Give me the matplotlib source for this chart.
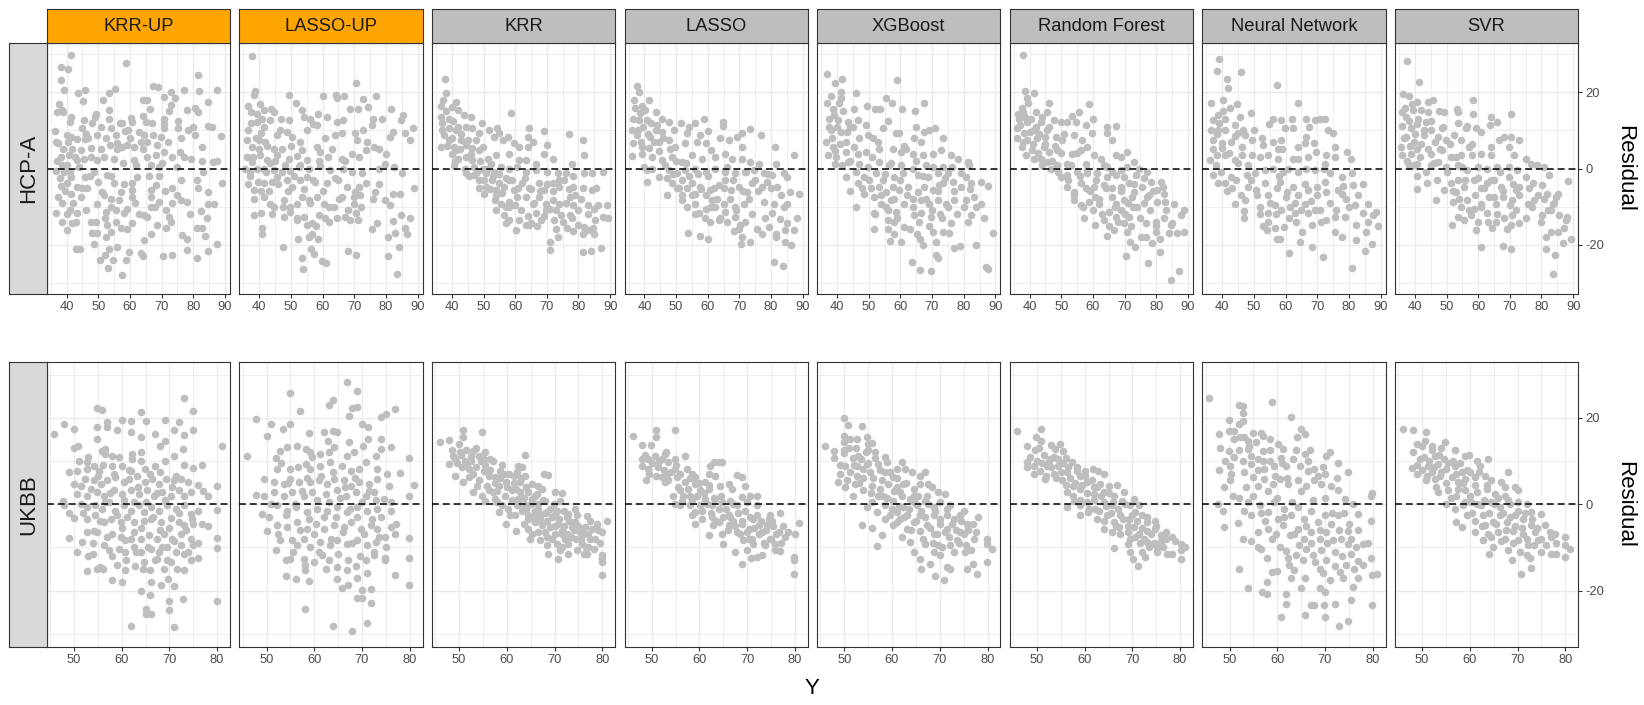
import matplotlib
matplotlib.use("Agg")
import matplotlib.pyplot as plt

plt.rcParams['font.family'] = ['Liberation Sans', 'DejaVu Sans']
plt.rcParams['axes.unicode_minus'] = False

# ---------------- categories / labels ----------------
models = ["KRR-UP", "LASSO-UP", "KRR", "LASSO", "XGBoost", "Random Forest", "Neural Network", "SVR"]
strip_colors = ["#FFA500", "#FFA500", "#BEBEBE", "#BEBEBE", "#BEBEBE", "#BEBEBE", "#BEBEBE", "#BEBEBE"]
datasets = ["HCP-A", "UKBB"]
x_ticks_hcp = [40, 50, 60, 70, 80, 90]
x_minor_hcp = [35, 45, 55, 65, 75, 85]
x_ticks_ukbb = [50, 60, 70, 80]
x_minor_ukbb = [45, 55, 65, 75]
y_ticks = [-20, 0, 20]
y_minor = [-30, -10, 10, 30]

# ---------------- data: (Y, Residual) ----------------
hcp_krr_up = [(41.5,29.7),(58.6,27.6),(38.1,26.7),(40.4,26.0),(81.5,24.6),(38.3,23.1),(39.2,20.5),(43.7,19.9),(45.7,20.6),(45.3,17.8),(53.4,19.7),(55.2,20.9),(51.6,18.1),(67.2,21.6),(68.9,21.3),(73.1,20.1),(70.6,18.8),(74.1,18.6),(77.2,20.7),(81.7,20.4),(87.6,20.7),(84.6,17.5),(37.6,16.8),(38.6,15.3),(37.1,14.9),(38.7,14.7),(41.3,13.6),(41.1,12.2),(45.4,12.8),(49.2,14.4),(48.9,13.4),(53.4,15.3),(53.4,12.9),(57.5,12.0),(60.4,13.2),(60.5,12.2),(64.2,18.1),(65.4,17.9),(66.3,15.5),(64.2,13.7),(65.2,12.2),(72.9,16.6),(72.2,15.0),(70.8,13.0),(70.8,11.6),(75.2,12.5),(78.1,15.3),(80.4,16.0),(81.5,14.8),(84.8,11.1),(86.0,10.8),(36.3,9.9),(44.7,10.7),(40.2,8.7),(41.5,8.3),(43.4,7.7),(36.7,7.0),(45.7,7.7),(46.9,7.9),(49.7,8.8),(52.3,7.9),(53.9,10.5),(55.5,8.7),(58.4,9.8),(59.5,10.1),(62.8,9.6),(64.4,8.7),(67.2,8.7),(69.9,8.3),(70.8,10.5),(75.2,10.5),(76.1,8.0),(78.2,10.1),(80.4,8.7),(82.8,5.7),(88.8,8.4),(37.4,6.6),(41.8,5.2),(44.4,4.8),(47.6,5.5),(51.0,5.2),(53.6,6.1),(56.0,6.6),(57.6,5.7),(59.2,6.1),(61.3,5.7),(63.4,7.0),(65.5,7.0),(68.6,6.1),(68.1,3.5),(70.8,4.4),(73.4,3.1),(75.8,4.4),(79.2,2.6),(82.6,1.9),(86.1,1.7),(87.6,2.0),(38.1,3.1),(40.7,3.5),(38.6,0.9),(40.2,0.9),(43.4,2.2),(45.5,2.6),(47.6,2.9),(49.7,2.2),(51.8,3.1),(55.0,2.6),(57.9,1.5),(61.3,2.2),(65.5,3.1),(66.5,0.9),(69.2,0.4),(74.9,0.4),(36.5,-0.6),(39.2,-0.9),(41.3,-2.2),(45.8,-2.2),(48.6,-0.9),(52.6,-1.7),(62.3,-2.2),(69.2,-2.0),(76.1,-3.1),(81.3,-3.1),(89.0,-3.8),(38.1,-4.6),(40.2,-3.9),(43.4,-4.8),(46.5,-5.2),(51.3,-6.1),(55.0,-3.9),(57.1,-6.1),(60.7,-3.9),(60.5,-5.7),(66.6,-5.7),(68.2,-4.2),(73.2,-5.2),(81.6,-5.2),(84.6,-6.1),(37.3,-7.4),(41.3,-6.7),(44.4,-7.4),(51.8,-7.0),(53.9,-7.9),(60.7,-7.4),(66.5,-7.4),(69.2,-8.7),(73.2,-9.0),(76.2,-8.3),(78.1,-8.7),(84.8,-9.4),(86.5,-9.4),(36.7,-11.6),(41.0,-10.9),(43.4,-11.8),(49.5,-9.4),(52.4,-11.4),(53.9,-10.1),(56.5,-8.3),(58.1,-11.8),(59.2,-10.5),(64.4,-12.2),(66.5,-10.1),(71.3,-10.9),(72.3,-12.7),(82.3,-11.1),(84.4,-12.9),(38.6,-14.0),(41.7,-14.3),(40.0,-16.2),(47.6,-14.0),(49.2,-14.0),(48.1,-16.9),(49.7,-16.9),(52.9,-14.9),(53.9,-16.6),(55.5,-14.0),(57.1,-15.7),(60.8,-14.3),(65.5,-12.7),(68.6,-14.9),(71.3,-15.7),(76.5,-17.5),(78.1,-18.6),(81.1,-15.7),(82.8,-15.7),(83.6,-17.8),(66.7,-17.1),(64.4,-18.8),(48.6,-19.7),(42.8,-21.0),(44.2,-21.0),(52.3,-17.9),(53.4,-21.0),(55.8,-20.6),(59.7,-21.9),(63.4,-22.1),(64.2,-23.0),(70.5,-23.0),(73.4,-22.7),(78.1,-21.4),(81.3,-23.4),(84.6,-21.6),(87.4,-19.7),(50.6,-24.1),(52.2,-22.7),(53.2,-26.0),(54.8,-23.9),(58.9,-24.1),(57.4,-28.0),
    (37,2),(38,-2.5),(38.5,-9),(39,5),(39.5,-6),(40,-12),(40.5,7),(41,-1),(42,-9),(42.5,3),(43,-14),(44,0.5),(45,-5),(46,9),(46,-11),(47.5,-2),(48,12),(50,-3.5),(51,11),(52,-13),(54,-2),(55.5,-11),(56,5),(57,12),(58,-4),(59,-16),(60,8),(61.5,-9),(62,1),(63,-12),(64,5),(66,-2),(67,12),(68,-10),(70,1.5),(71,-6),(72,7),(73,-14),(75,-7),(77,3),(79,-12),(80,11),(83,-1)]

hcp_lasso_up = [(37.7,29.5),(38.8,20.4),(38.2,19.2),(36.5,16.4),(40.3,16.9),(37.4,14.9),(39.3,14.3),(41.4,15.3),(43.8,15.7),(44.8,14.8),(49.3,19.4),(51.5,17.2),(53.5,15.3),(54.0,13.6),(56.1,13.1),(60.0,19.0),(64.1,19.4),(64.7,18.5),(66.9,19.1),(70.5,22.3),(72.9,18.2),(76.9,19.1),(68.7,15.7),(71.3,15.7),(74.5,16.2),(81.6,15.7),(85.3,14.0),(84.9,12.7),(88.7,10.7),(86.1,9.2),(87.5,7.4),(82.4,9.6),(81.3,8.3),(78.7,13.1),(75.8,13.1),(75.5,11.4),(72.9,10.1),(70.8,7.4),(70.3,9.2),(66.6,12.7),(64.5,12.2),(61.4,13.6),(58.7,14.4),(58.2,11.4),(56.9,11.8),(60.9,7.9),(64.0,8.7),(66.1,9.2),(58.2,5.7),(59.3,4.4),(52.9,7.0),(53.5,4.8),(50.3,8.3),(48.7,9.6),(45.6,8.7),(47.2,5.2),(44.6,5.2),(36.1,7.6),(37.7,5.7),(39.8,7.4),(41.4,10.9),(43.5,12.7),(46.9,12.9),(49.3,12.7),(39.3,12.2),(40.5,9.2),(41.9,7.0),(45.6,3.5),(49.3,2.6),(51.9,3.2),(55.1,2.2),(61.6,3.1),(66.0,2.6),(69.3,3.9),(71.4,3.1),(73.8,4.8),(76.1,5.7),(77.7,5.2),(80.1,3.9),(79.8,1.3),(82.6,0.3),(36.1,3.1),(37.7,1.7),(40.3,3.5),(42.4,2.2),(35.6,0.0),(37.2,-0.9),(39.3,0.0),(41.4,0.0),(44.6,-0.4),(47.2,-0.9),(49.8,-0.6),(52.4,0.4),(55.6,0.0),(59.3,0.6),(62.4,-0.4),(66.6,0.0),(69.3,-0.9),(72.4,-1.3),(77.7,0.0),(85.1,-1.1),(36.3,-4.1),(38.4,-5.7),(41.4,-3.9),(44.0,-3.5),(45.6,-2.2),(48.7,-3.1),(50.3,-4.8),(52.9,-3.1),(55.1,-2.2),(57.7,-3.5),(61.4,-3.9),(64.0,-2.6),(67.7,-4.8),(70.3,-6.1),(71.4,-4.8),(73.8,-3.8),(77.7,-4.1),(76.6,-6.1),(82.4,-6.6),(84.5,-6.7),(88.8,-5.1),(41.4,-7.4),(43.5,-9.4),(44.6,-10.2),(47.7,-8.3),(49.8,-10.1),(51.9,-9.2),(53.5,-7.4),(55.6,-8.3),(58.2,-7.4),(60.3,-9.2),(63.5,-10.1),(65.1,-7.9),(66.2,-7.4),(69.8,-7.4),(69.8,-9.2),(71.9,-7.0),(79.8,-8.3),(81.4,-9.6),(38.4,-12.2),(40.5,-11.8),(40.8,-15.7),(40.8,-17.1),(47.7,-12.7),(49.8,-11.4),(51.9,-13.6),(54.0,-12.7),(55.1,-14.9),(56.7,-14.4),(58.8,-12.2),(60.9,-13.1),(61.9,-14.0),(64.5,-13.1),(67.2,-12.7),(68.7,-13.6),(70.6,-11.6),(71.1,-13.6),(75.6,-16.0),(77.2,-14.4),(82.1,-13.7),(83.0,-16.9),(84.7,-12.2),(87.7,-13.1),(86.1,-15.7),(86.8,-17.1),(80.8,-17.9),(47.4,-20.7),(52.1,-18.6),(55.6,-17.9),(56.6,-17.1),(58.5,-18.6),(56.5,-21.0),(57.4,-22.5),(53.6,-23.6),(53.7,-26.3),(59.8,-24.2),(61.2,-24.9),(68.0,-21.6),(70.5,-22.6),(80.8,-23.0),(84.1,-20.6),(83.5,-27.6),
    (36.5,10),(37,-2),(37.5,12),(38,3),(38.5,-8),(39,8),(39.5,-3.5),(40,5),(40.5,-6),(41,13),(42,-1),(42.5,6),(43,-6),(43.5,1.5),(44,-12),(45,2),(46,-4),(46.5,10),(47.5,-10),(48,1),(49,-6),(50,6),(51,-2),(52,-13),(53,1),(54,-5.5),(55,10),(56,-9),(57,-3),(58,-15),(59,2),(60,-6),(62,-10),(63,5),(65,-3),(67,2),(68,-11),(72,-10),(74,7),(76,-8)]

hcp_krr = [(37.8,23.4),(38.3,19.9),(37.1,17.9),(36.5,16.4),(41.3,17.5),(40.2,16.2),(41.8,15.3),(43.9,14.0),(46.0,13.6),(36.5,13.4),(36.8,10.1),(39.2,10.5),(37.6,8.7),(41.3,10.1),(44.4,10.9),(46.5,10.5),(48.6,9.2),(49.5,12.0),(36.5,5.7),(39.2,7.4),(40.7,5.7),(42.8,7.4),(44.4,6.1),(47.6,7.4),(48.6,4.8),(40.2,3.9),(41.3,4.8),(46.0,3.9),(49.7,5.7),(51.6,10.1),(54.2,10.5),(53.4,8.3),(55.0,9.2),(57.6,8.3),(56.2,7.4),(58.7,14.6),(59.7,6.6),(61.3,5.7),(64.4,10.5),(64.2,8.3),(63.9,5.7),(65.5,7.0),(69.2,9.9),(70.2,6.1),(69.2,3.9),(77.1,9.0),(81.5,7.6),(81.8,3.5),(78.1,1.1),(58.1,3.8),(61.3,2.2),(63.4,2.2),(66.5,1.3),(71.8,2.4),(41.8,2.6),(40.7,0.9),(44.4,3.1),(46.5,2.2),(51.3,2.6),(53.9,3.5),(52.3,1.3),(44.4,-1.1),(47.1,-1.7),(49.7,0.0),(50.7,-1.3),(53.4,-0.9),(55.5,0.4),(58.1,0.0),(60.7,0.4),(63.4,-0.9),(66.5,-0.4),(70.2,-0.9),(73.4,-1.3),(76.0,-1.3),(78.3,-2.0),(81.7,-1.3),(84.4,-1.1),(87.6,-0.9),(48.6,-3.1),(50.7,-4.8),(48.6,-5.2),(50.2,-6.6),(52.8,-3.1),(55.0,-3.9),(53.9,-5.7),(56.5,-4.8),(58.1,-3.1),(59.7,-5.7),(62.3,-3.9),(64.4,-5.2),(67.6,-3.9),(69.2,-5.7),(71.8,-3.9),(74.0,-4.8),(75.5,-3.1),(78.2,-4.8),(81.3,-5.2),(84.4,-5.7),(85.5,-5.2),(53.6,-8.3),(55.5,-9.2),(58.1,-8.7),(60.7,-7.4),(57.1,-10.1),(63.4,-7.4),(65.5,-9.2),(67.6,-7.4),(69.7,-9.2),(71.8,-8.3),(74.0,-9.2),(77.2,-7.4),(78.2,-9.6),(80.8,-7.9),(82.9,-9.6),(86.1,-9.6),(89.1,-9.6),(53.9,-10.9),(56.5,-12.2),(58.1,-13.6),(57.1,-14.4),(61.3,-13.6),(60.2,-16.2),(63.4,-14.9),(65.0,-14.4),(66.5,-11.8),(68.1,-13.6),(69.7,-10.9),(72.3,-13.6),(74.4,-12.2),(77.2,-12.2),(79.8,-14.9),(81.9,-15.3),(84.5,-15.7),(85.3,-13.6),(87.7,-12.7),(89.2,-12.9),(72.8,-16.0),(73.4,-18.1),(76.5,-15.7),(78.2,-16.4),(81.5,-17.1),(82.9,-16.2),(85.0,-17.1),(71.0,-19.4),(71.0,-21.3),(81.3,-21.9),(83.8,-21.6),(87.1,-20.8),(64.4,-14.9),
    (37,12),(38,15),(38.5,6),(39,13),(40,8),(40.5,12.5),(41,2),(42,11),(42.5,5),(43,9),(44,0),(45,7.5),(45.5,-2),(46.5,5.5),(47,0.5),(48,-1),(49,2),(50,-3),(51,0),(52,-5.5),(53,-2),(54,-7),(55,-1.5),(56,-6.5),(57,-2.5),(58,-10),(59,-3),(60,-9.5),(61,-5),(62,-11),(63,-2.5),(64,-12.5),(65,-5.5),(66,-9),(67,-15),(68,-6),(69,-12.5),(70,-4),(71,-10.5),(72,-6),(73,-11),(74,-3),(75,-14),(76,-9),(77,-5.5),(78,-13),(79,-7),(80,-11),(83,-12),(85,-10.5)]

hcp_lasso = [(37.7,21.7),(38.4,20.1),(36.6,18.1),(41.4,17.9),(39.3,16.4),(40.3,15.3),(43.5,14.9),(36.3,13.1),(38.2,12.7),(40.8,12.7),(45.6,13.1),(47.7,12.2),(51.7,12.0),(56.1,12.0),(58.7,12.9),(54.0,10.8),(64.8,12.2),(64.7,11.1),(60.1,9.8),(57.4,8.7),(53.3,9.2),(49.3,10.1),(45.6,9.6),(43.5,10.1),(36.1,10.1),(37.7,8.7),(41.9,8.3),(36.3,6.6),(39.3,5.7),(44.5,7.0),(47.7,7.4),(49.8,5.7),(52.9,6.6),(56.6,7.0),(59.3,6.6),(60.9,4.8),(64.0,7.9),(66.6,7.4),(69.3,8.3),(70.8,9.2),(73.2,10.3),(70.8,5.7),(76.8,8.9),(81.2,5.7),(87.3,3.5),(36.1,3.2),(39.3,3.9),(42.4,3.1),(45.6,2.2),(48.7,3.1),(51.9,1.7),(55.1,3.5),(58.2,2.6),(62.4,3.1),(65.6,3.9),(67.7,2.6),(70.8,2.6),(73.5,1.7),(76.1,1.3),(81.6,1.1),(40.8,-0.4),(44.5,-2.2),(40.8,-3.5),(47.7,-0.4),(50.3,-1.3),(52.9,-0.4),(56.1,0.0),(59.3,-0.9),(62.4,0.0),(65.6,-0.9),(68.7,-1.3),(71.9,-0.9),(74.5,-0.4),(77.7,-1.3),(80.3,-1.7),(84.0,-1.3),(85.1,-2.2),(47.2,-7.0),(48.8,-3.9),(50.3,-5.2),(51.9,-3.1),(53.5,-5.2),(55.1,-3.9),(56.1,-6.6),(57.7,-4.8),(59.3,-7.0),(60.8,-5.7),(63.5,-4.4),(65.6,-3.1),(67.2,-5.7),(69.8,-4.8),(72.4,-6.1),(74.0,-3.9),(77.2,-4.8),(78.7,-3.5),(81.9,-4.8),(86.1,-6.1),(88.7,-6.6),(51.9,-8.3),(53.5,-10.1),(56.1,-9.2),(57.2,-11.8),(59.3,-10.5),(61.4,-8.3),(62.4,-10.1),(65.1,-9.2),(65.6,-11.4),(68.7,-10.1),(71.4,-9.2),(77.7,-8.7),(80.8,-9.2),(85.1,-9.4),(60.8,-14.0),(63.5,-13.6),(66.1,-14.0),(68.7,-12.7),(71.9,-14.0),(70.3,-14.9),(80.2,-11.8),(82.9,-13.3),(85.1,-14.4),(88.2,-13.1),(87.2,-16.2),(84.5,-16.2),(68.2,-16.4),(75.6,-16.0),(77.1,-17.1),(79.2,-15.3),(81.4,-17.1),(70.8,-17.9),(70.6,-19.9),(73.3,-19.4),(53.7,-16.9),(57.4,-17.8),(60.0,-18.6),(81.4,-17.9),(84.5,-19.2),(86.4,-20.1),(81.0,-24.5),(83.7,-25.5),
    (37,16),(38,10),(38.5,14.5),(39,7),(39.5,11),(40,0.5),(41,9),(41.5,5.5),(42,12),(42.5,0),(43,7),(44,11.5),(44.5,4.5),(46,8),(46.5,1),(47,-2.5),(48,5),(49,-1.5),(50,2),(51,-5),(52,-7),(53,1.5),(54,-2),(55,-7),(56,-12),(57,-1.5),(58,-5.5),(59,-13),(60,-2),(61,-10),(62,-5),(63,-8),(64,-13),(65,-5),(66,0.5),(67,-8),(68,-3),(69,-11),(70,-16),(71,-6),(72,-1),(73,-8),(74,-12),(75,-3),(76,-6),(78,-13),(79,-1.5),(80,-5),(83,-7),(84,-10)]

hcp_xgb = [(36.8,24.9),(39.4,22.5),(41.7,23.6),(41.1,20.1),(41.3,18.4),(46.1,19.9),(58.9,23.2),(36.7,17.1),(38.6,15.5),(40.7,17.1),(45.5,15.7),(49.4,16.4),(52.0,15.6),(53.6,15.7),(55.5,18.4),(57.4,17.1),(60.5,15.5),(64.5,15.0),(67.4,17.2),(37.6,13.1),(40.2,12.7),(43.4,12.2),(46.5,12.7),(44.2,10.9),(38.1,10.1),(41.3,9.6),(49.7,8.7),(51.3,8.1),(54.4,10.5),(56.2,12.5),(58.7,9.2),(59.7,9.2),(64.9,10.9),(64.2,8.1),(67.6,9.6),(69.2,10.2),(70.8,10.5),(73.4,8.0),(66.5,7.0),(36.5,7.0),(38.6,5.7),(42.8,7.0),(45.5,5.7),(37.1,3.5),(39.7,3.1),(42.9,4.4),(46.5,3.9),(49.2,4.4),(53.4,5.2),(57.6,5.2),(60.2,4.4),(61.8,5.2),(63.9,3.8),(67.1,3.5),(70.2,3.9),(72.8,4.8),(76.0,3.5),(78.3,2.6),(39.2,1.3),(43.4,1.7),(46.9,1.3),(49.7,0.4),(53.4,1.7),(56.5,0.9),(60.2,0.9),(63.9,0.0),(68.1,0.9),(70.2,0.4),(73.6,0.4),(76.2,0.4),(81.3,1.7),(81.8,0.9),(42.8,-2.2),(46.5,-3.9),(48.6,-2.2),(52.3,-1.3),(54.4,-3.1),(58.1,-2.2),(60.7,-1.3),(65.5,-1.7),(68.6,-2.2),(71.8,-1.3),(75.0,-1.3),(79.2,-1.3),(80.8,-2.2),(44.2,-5.9),(48.6,-6.6),(50.7,-5.2),(53.4,-4.8),(55.5,-6.1),(57.6,-4.8),(59.6,-5.7),(62.3,-4.8),(65.5,-6.1),(67.6,-4.8),(70.2,-5.7),(72.3,-4.4),(73.4,-3.9),(76.5,-3.5),(79.2,-4.8),(82.3,-3.9),(85.5,-3.5),(87.6,-4.6),(46.0,-10.1),(51.8,-7.4),(53.9,-9.2),(51.8,-11.8),(55.5,-10.1),(57.1,-8.3),(58.6,-11.4),(61.3,-9.2),(63.9,-7.9),(66.5,-8.3),(69.2,-9.2),(71.8,-8.3),(74.5,-9.2),(77.1,-8.3),(80.8,-8.3),(83.4,-7.4),(85.5,-9.2),(56.0,-13.6),(58.1,-14.0),(61.3,-15.3),(64.4,-12.2),(66.5,-11.8),(69.7,-12.7),(72.5,-12.0),(76.0,-14.4),(81.3,-14.0),(82.3,-12.2),(86.5,-13.1),(51.8,-16.0),(56.0,-16.0),(58.1,-17.1),(56.8,-19.0),(60.2,-19.2),(65.3,-17.1),(70.2,-16.6),(73.4,-16.6),(75.5,-16.9),(66.2,-18.4),(67.3,-20.1),(71.4,-19.2),(71.2,-22.7),(71.9,-23.4),(76.8,-20.9),(78.7,-20.4),(83.9,-20.1),(89.2,-16.9),(63.6,-24.5),(66.3,-26.7),(69.7,-26.9),(87.2,-25.8),(87.8,-26.3),
    (37.5,11),(38,19),(38.5,8),(39,14),(39.5,4.5),(40,11),(41,6.5),(41.5,1),(42,15),(43,9.5),(44,2),(45,11),(46,-1),(47,8),(48,-5),(49,11.5),(50,-3),(51,3),(52,-12),(53,7),(54,-7),(55,-1.5),(56,-11),(57,1.5),(58,-8),(59,-13),(60,-3),(61,6),(62,-7),(63,-16),(64,-10),(65,2),(66,-14),(67,-2),(68,-8),(69,-15),(70,-11),(72,-6),(73,-13),(74,-2.5),(75,-10),(77,-6),(78,-12),(80,-10),(82,-5.5),(84,-10)]

hcp_rf = [(37.9,29.7),(38.4,20.4),(41.4,19.9),(39.3,18.4),(39.5,17.1),(46.1,17.2),(58.8,16.8),(36.3,14.4),(38.0,14.9),(41.9,14.9),(45.6,14.9),(36.6,13.1),(39.3,12.2),(43.5,12.2),(47.7,12.7),(49.8,12.2),(51.9,12.2),(53.5,13.7),(55.6,14.9),(54.6,12.2),(60.1,12.9),(57.7,11.4),(64.5,10.9),(67.2,11.2),(64.5,9.2),(66.1,7.4),(36.1,10.5),(38.2,9.2),(41.4,10.1),(45.6,10.2),(36.1,7.9),(39.3,7.4),(42.4,7.9),(45.0,8.3),(48.2,8.3),(50.3,7.4),(53.9,8.7),(56.6,7.4),(59.7,9.2),(37.7,5.7),(40.8,4.8),(44.5,5.7),(46.1,4.4),(48.7,4.8),(53.5,3.9),(56.1,4.8),(58.2,5.7),(60.3,3.5),(62.4,2.6),(67.2,3.5),(70.8,4.4),(68.7,3.1),(72.9,1.7),(41.4,2.6),(43.5,2.6),(45.6,1.7),(48.7,0.9),(51.9,1.3),(57.7,1.3),(63.5,0.9),(64.5,0.4),(68.7,-0.4),(70.8,0.4),(74.5,0.0),(77.2,-0.9),(46.6,0.0),(49.8,-2.2),(51.9,-1.7),(55.1,-0.9),(58.2,-1.3),(61.4,-1.3),(64.5,-2.2),(67.2,-1.7),(69.8,-2.2),(73.5,-1.7),(76.1,-2.6),(78.2,-3.5),(81.4,-3.5),(51.9,-4.8),(54.0,-6.1),(56.1,-3.9),(57.7,-5.2),(60.3,-4.8),(63.5,-4.4),(66.1,-5.2),(68.7,-4.8),(71.4,-3.9),(72.9,-6.1),(75.6,-4.8),(77.7,-7.0),(80.3,-5.7),(82.2,-4.8),(82.4,-6.6),(54.0,-8.3),(56.1,-9.6),(58.7,-8.7),(60.8,-7.4),(61.9,-9.2),(66.1,-7.4),(67.2,-9.2),(69.8,-8.3),(72.4,-7.4),(77.2,-7.4),(80.3,-8.7),(82.9,-8.7),(85.6,-9.2),(88.7,-10.8),(57.2,-13.1),(60.8,-14.9),(63.5,-13.6),(65.1,-11.4),(67.2,-12.7),(68.7,-10.9),(69.8,-14.4),(71.4,-12.7),(72.7,-10.1),(66.6,-16.2),(64.5,-17.8),(70.8,-16.6),(79.8,-14.0),(82.4,-13.1),(85.1,-14.4),(87.7,-12.2),(84.5,-14.9),(76.8,-14.3),(75.1,-17.9),(76.6,-18.1),(79.8,-16.6),(86.4,-16.8),(88.9,-16.6),(71.7,-19.2),(73.3,-20.7),(78.7,-19.5),(81.1,-18.6),(70.4,-22.9),(77.3,-24.8),(81.2,-22.0),(87.2,-26.9),(84.7,-29.3),
    (37,11.5),(37.5,16),(38,7),(38.5,13.5),(39,3.5),(40,9.5),(40.5,13),(41,6.5),(42,11),(42.5,4),(43,9),(44,1),(44,13.5),(45,6.5),(46,11),(47,2),(48,6),(49,-1),(50,4),(51,9),(52,-3),(53,1),(54,-7),(55,4),(56,-2),(57,-10),(58,-0.5),(59,-6),(60,-11),(61,-3),(62,-8),(63,-12),(64,-5),(65,-15),(66,-1),(67,-10),(68,-14),(69,-6),(70,-12),(71,-9),(72,-15),(73,-4),(74,-10),(75,-13),(76,-9),(78,-11),(79,-6),(80,-15),(83,-11),(84,-17)]

hcp_nn = [(39.0,28.6),(38.2,25.6),(45.9,25.4),(41.4,23.4),(41.7,21.0),(57.3,22.0),(36.6,17.1),(40.3,18.1),(42.4,16.0),(44.7,16.9),(64.0,17.2),(37.1,12.7),(38.7,14.0),(40.3,15.1),(40.8,13.1),(49.1,14.6),(45.6,13.4),(36.6,10.2),(38.7,10.1),(44.0,11.4),(45.1,9.2),(47.2,8.7),(56.0,13.1),(54.9,11.8),(58.6,12.7),(61.9,13.1),(59.9,10.5),(62.5,10.7),(66.4,13.1),(69.2,12.7),(70.8,12.9),(72.6,13.1),(66.4,8.3),(67.4,10.9),(73.4,10.1),(75.1,9.4),(37.1,7.4),(39.8,6.6),(42.9,7.0),(46.1,5.7),(49.3,7.4),(52.4,7.9),(53.0,6.1),(57.7,5.2),(58.7,7.4),(63.8,5.7),(66.1,6.6),(69.0,6.6),(75.6,5.7),(79.3,4.4),(36.1,2.2),(38.2,3.5),(40.8,3.5),(44.0,2.2),(46.1,3.5),(49.3,3.5),(54.5,3.5),(57.7,2.6),(62.5,2.6),(69.7,4.4),(72.9,3.5),(75.6,3.1),(80.8,2.4),(72.3,1.3),(37.1,-1.7),(38.7,-3.9),(40.8,-3.9),(42.9,-2.2),(47.7,-1.7),(50.3,-1.3),(53.5,-0.4),(56.1,0.0),(59.3,-0.9),(60.8,0.0),(64.0,-0.9),(66.6,0.0),(69.3,-0.4),(74.0,-1.3),(77.7,-2.2),(81.1,-1.3),(47.2,-8.3),(44.0,-9.2),(48.2,-4.8),(50.8,-5.7),(53.5,-3.9),(54.5,-7.0),(57.2,-5.2),(58.2,-3.5),(60.3,-6.1),(62.4,-4.8),(64.0,-7.0),(67.2,-5.7),(69.8,-4.8),(72.4,-3.5),(72.9,-6.1),(76.6,-5.7),(77.7,-6.6),(81.4,-4.4),(84.5,-4.1),(47.0,-11.1),(51.9,-10.1),(54.5,-11.8),(56.6,-9.6),(58.7,-10.9),(61.4,-10.1),(63.0,-11.8),(66.1,-9.2),(67.2,-11.8),(69.3,-10.9),(72.9,-13.6),(75.6,-12.7),(78.7,-12.7),(81.9,-9.6),(84.5,-11.8),(86.1,-9.2),(87.7,-12.2),(88.7,-11.4),(54.5,-14.0),(54.0,-16.2),(56.6,-15.7),(59.6,-15.3),(63.2,-14.0),(65.1,-16.6),(68.2,-14.9),(71.3,-14.0),(75.6,-16.6),(77.7,-17.9),(82.4,-14.9),(85.5,-16.6),(89.1,-15.0),(82.3,-18.8),(85.1,-21.6),(87.2,-19.9),(57.4,-18.6),(58.4,-18.6),(64.5,-19.2),(68.2,-20.6),(71.8,-23.2),(61.1,-22.1),(80.9,-26.1),
    (37,5),(38,1),(38.5,9),(39,12),(39.5,-1),(40,5.5),(41,10),(41.5,-6),(42,4),(43,-5),(44,8.5),(44.5,-3),(45,1.5),(46,-7),(46.5,10),(47,-13),(48,1),(49,-3),(50,10),(51,-7),(52,-12),(52,3),(53,-15),(55,-9),(56,7),(57,-12),(58,-2),(59,5),(60,-7.5),(61,-13),(63,-9),(64,2.5),(65,-11),(66,-4),(67,3),(68,-8.5),(70,-7),(71,-11),(72,0),(74,-9),(76,-11),(78,-4.5),(79,-8),(80,-10),(83,-7),(86,-14)]

hcp_svr = [(37.5,28.3),(41.2,22.7),(36.2,19.5),(38.2,19.0),(40.8,17.5),(44.0,17.5),(45.6,18.1),(58.3,18.1),(35.8,14.9),(37.2,13.6),(39.3,15.3),(41.9,15.3),(44.0,14.9),(47.7,15.1),(49.3,14.9),(53.3,15.7),(53.7,14.9),(58.3,14.4),(64.0,13.6),(66.1,12.2),(70.3,14.4),(36.1,11.1),(38.7,10.5),(40.8,11.8),(43.5,12.2),(45.1,10.1),(48.7,10.5),(53.5,12.0),(56.1,10.5),(59.3,10.5),(56.6,11.1),(60.8,9.6),(63.8,11.4),(37.2,8.3),(39.8,7.0),(42.9,8.7),(47.2,8.3),(49.8,7.4),(52.4,8.7),(54.5,7.4),(57.2,5.7),(60.8,3.9),(63.9,5.7),(66.6,7.4),(68.2,8.3),(70.3,8.3),(73.0,7.6),(69.8,5.7),(71.4,3.5),(35.6,5.7),(36.1,3.5),(38.7,3.9),(40.8,5.2),(45.1,3.9),(48.7,4.8),(51.4,3.1),(54.5,3.5),(58.2,3.5),(64.0,3.5),(75.1,2.6),(76.6,1.3),(78.7,0.9),(80.8,0.4),(38.2,0.9),(40.8,1.3),(45.1,0.9),(47.2,1.7),(49.8,0.4),(53.5,0.9),(56.6,-0.4),(59.8,0.4),(62.9,0.0),(66.1,0.4),(69.8,0.4),(72.4,-0.4),(82.4,-1.7),(88.5,-3.3),(40.6,-1.9),(40.8,-5.4),(43.8,-3.8),(46.6,-8.3),(49.3,-5.7),(51.4,-3.9),(53.5,-3.1),(53.0,-6.1),(55.6,-4.8),(58.7,-3.1),(60.8,-5.2),(62.9,-3.9),(65.1,-3.1),(67.2,-4.8),(69.8,-2.2),(71.9,-5.7),(72.9,-4.8),(75.1,-2.2),(77.2,-3.9),(80.3,-4.4),(81.9,-6.6),(85.1,-6.6),(51.9,-8.7),(54.5,-10.1),(56.6,-8.3),(58.7,-10.5),(60.9,-9.2),(63.5,-7.4),(65.6,-9.2),(67.7,-7.4),(70.8,-8.3),(75.6,-9.2),(77.7,-8.3),(80.8,-7.9),(83.5,-9.2),(84.5,-7.4),(53.5,-12.7),(55.6,-13.6),(57.7,-12.2),(59.8,-14.0),(62.9,-11.8),(65.6,-14.0),(68.2,-13.1),(70.8,-12.2),(72.9,-14.4),(80.3,-12.2),(82.9,-10.9),(85.5,-12.2),(88.2,-12.7),(87.7,-13.6),(51.6,-14.9),(59.3,-16.2),(64.5,-15.7),(70.3,-14.9),(87.2,-15.6),(81.5,-17.9),(83.1,-16.6),(85.2,-16.6),(86.8,-19.5),(89.4,-18.5),(60.8,-20.6),(67.8,-20.3),(70.5,-21.0),(81.4,-21.2),(84.2,-22.7),(83.6,-27.7),
    (36.5,8),(37,16),(37.5,2),(38,12.5),(38.5,6),(39,17),(39.5,1),(40,9),(41,13),(41.5,3),(42,6.5),(43,10),(43.5,-1),(44,5),(45,12.5),(46,1.5),(46.5,7),(47,-3),(48,5),(49,11),(50,-1),(51,6.5),(52,-6),(53,3),(54,-8),(55,0.5),(56,-3),(57,-11),(58,6.5),(59,-7),(60,-2.5),(61,-10),(62,-5),(63,-14),(64,-3),(65,-7.5),(66,-12),(67,-1),(68,-6),(69,-16),(70,-9.5),(71,-4),(72,-11),(73,-7),(75,-13),(76,-5),(77,-10),(79,-7),(80,-14),(82,-11),(84,-9)]

ukbb_krr_up = [(45.9,16.2),(47.9,18.5),(50.0,17.5),(54.9,22.2),(55.9,21.8),(54.9,17.8),(57.0,19.1),(57.0,17.8),(59.0,17.2),(60.0,19.5),(62.0,19.2),(62.0,16.8),(64.0,21.4),(64.0,15.5),(65.0,19.3),(67.0,16.2),(68.0,13.5),(69.0,19.5),(69.0,14.7),(71.0,17.2),(72.0,19.1),(73.1,24.5),(73.1,16.0),(72.9,12.8),(75.0,21.5),(75.0,17.1),(81.0,13.5),(71.0,11.1),(50.0,12.9),(50.9,13.4),(54.9,15.1),(56.6,12.8),(56.6,11.6),(58.0,11.2),(55.9,12.4),(62.2,11.6),(64.0,12.0),(62.2,10.5),(64.0,10.1),(49.0,7.4),(50.7,7.8),(52.8,8.2),(52.8,9.7),(54.2,8.9),(55.2,7.8),(58.0,8.9),(60.1,8.9),(62.0,7.8),(64.8,8.2),(67.0,8.9),(69.1,10.1),(68.0,7.4),(71.3,6.6),(73.1,9.1),(75.0,8.3),(76.9,9.1),(50.0,4.7),(51.4,4.3),(52.4,5.8),(54.2,5.5),(55.6,4.7),(57.0,5.5),(58.7,6.2),(60.5,5.1),(61.5,5.8),(63.3,6.6),(64.8,5.1),(66.4,5.8),(67.8,4.7),(69.2,5.8),(71.0,5.5),(72.4,5.8),(73.8,5.1),(76.0,4.5),(79.9,4.1),(50.7,2.4),(52.8,2.0),(54.9,2.8),(56.3,2.0),(58.4,3.2),(60.1,2.4),(61.9,3.2),(63.6,2.4),(65.4,3.2),(66.8,2.0),(68.5,2.8),(70.3,2.0),(72.0,3.2),(74.5,2.8),(77.0,3.1),(78.0,1.8),(47.8,0.8),(47.9,-0.3),(49.0,-2.0),(50.0,-3.2),(51.4,0.1),(52.8,-0.7),(54.5,-0.3),(55.9,-1.1),(57.3,0.5),(58.7,-1.5),(60.5,-0.3),(61.9,-1.5),(63.6,-0.3),(64.7,-1.8),(66.1,-0.7),(67.8,-1.5),(69.6,-0.3),(71.3,-1.1),(73.1,-0.3),(74.5,-2.2),(76.0,-1.5),(76.9,-4.5),(79.9,-1.3),(52.8,-3.4),(54.5,-2.6),(56.3,-4.2),(57.7,-3.4),(59.8,-4.2),(61.2,-3.0),(62.6,-4.2),(64.7,-3.8),(66.1,-3.4),(68.2,-4.2),(70.3,-3.2),(72.0,-4.2),(73.1,-4.9),(74.8,-3.4),(49.0,-7.8),(52.8,-6.5),(54.2,-6.1),(54.9,-6.5),(51.7,-8.8),(58.0,-6.8),(59.8,-7.6),(60.8,-8.4),(62.6,-6.5),(64.0,-8.0),(65.7,-7.2),(67.5,-8.0),(68.9,-6.8),(70.6,-8.0),(72.4,-6.8),(74.5,-8.0),(75.0,-9.5),(79.9,-7.8),(79.9,-10.1),(50.7,-11.1),(54.1,-11.5),(56.2,-9.5),(57.3,-10.7),(59.4,-10.3),(60.8,-11.1),(62.6,-9.9),(64.0,-11.1),(66.1,-10.3),(67.8,-11.1),(69.6,-9.9),(71.3,-11.1),(73.1,-11.5),(74.5,-13.0),(76.0,-12.4),(52.8,-15.5),(54.9,-14.9),(55.5,-14.5),(58.0,-17.6),(59.1,-14.0),(60.8,-15.3),(62.9,-14.3),(64.7,-13.4),(65.9,-15.3),(66.1,-18.0),(67.5,-12.6),(68.9,-14.9),(68.2,-18.8),(69.7,-17.4),(70.3,-13.5),(73.1,-15.3),(64.0,-20.2),(65.0,-24.2),(66.1,-25.5),(65.0,-25.5),(69.9,-22.5),(69.9,-24.5),(72.9,-22.0),(79.9,-22.5),(61.9,-28.2),(71.0,-28.4),
    (51,10),(52,-2),(53,11),(53.5,3.5),(54,-9),(55,6.5),(55.5,-4),(56,9),(56.5,0.5),(57,-7.5),(57.5,2.5),(58,-12),(58.5,7),(59,-2.5),(59.5,11),(60,-5.5),(60.5,1),(61,-13),(61.5,8),(62,-8),(62.5,0.5),(63,-11),(63.5,4),(64,-5.5),(64.5,-15),(65,0.5),(65.5,-10),(66,7),(66.5,-3),(67,-13),(67.5,2.5),(68,-6),(68.5,-10),(69,1),(69.5,-13),(70,-5.5),(70.5,4),(71,-8.5),(71.5,-15),(72,-2),(72.5,-9.5),(73,2),(73.5,-6),(74,-11),(75,-4.5),(76,-9),(78,-5),(53,-12),(56,-15),(60,-18),(66,-21),(71,-19)]

ukbb_lasso_up = [(45.9,11.1),(47.9,19.8),(50.0,15.7),(51.0,18.5),(53.5,17.4),(54.9,18.5),(54.9,25.8),(57.0,21.5),(63.1,22.9),(64.0,24.2),(66.9,28.4),(68.9,26.1),(67.9,22.2),(69.0,22.4),(67.2,20.5),(70.0,18.5),(71.2,17.8),(74.0,20.3),(75.0,20.8),(77.0,22.0),(59.0,16.6),(62.0,16.8),(64.0,17.0),(64.8,16.8),(62.9,14.7),(67.2,14.5),(70.3,13.5),(71.2,15.2),(74.0,15.2),(76.0,13.2),(74.0,12.8),(51.9,10.8),(52.9,12.4),(54.3,13.2),(56.4,13.5),(58.2,12.8),(59.2,12.0),(61.3,11.6),(63.1,12.0),(64.1,13.2),(66.9,11.2),(68.3,12.0),(72.9,11.2),(70.8,9.7),(79.9,10.8),(52.2,8.2),(55.0,8.2),(58.2,9.3),(59.2,8.2),(61.3,8.9),(63.4,9.7),(65.9,8.9),(67.6,7.8),(69.4,8.2),(73.2,8.2),(75.3,7.0),(77.9,7.2),(80.9,4.5),(49.4,5.8),(51.5,5.1),(53.6,4.7),(55.0,5.8),(56.8,5.1),(59.2,5.1),(61.0,5.5),(62.7,4.7),(64.1,5.8),(66.2,5.5),(67.6,4.3),(69.4,5.1),(71.5,4.7),(73.2,5.8),(75.7,4.2),(47.7,2.2),(49.4,2.0),(51.5,2.8),(53.6,2.0),(55.4,2.8),(57.8,2.0),(59.6,2.8),(62.4,2.4),(64.8,3.2),(66.6,2.0),(68.7,2.8),(70.8,2.0),(72.5,2.8),(74.6,1.2),(79.9,2.0),(49.1,-2.2),(50.5,-3.0),(52.2,-0.3),(54.3,-1.5),(56.1,-0.7),(58.5,-1.8),(60.6,-1.1),(62.7,-1.5),(64.8,-0.7),(66.9,-1.8),(69.0,-0.7),(71.1,-1.5),(73.2,-1.1),(76.0,-1.5),(50.0,-6.1),(52.2,-4.9),(54.3,-5.3),(56.4,-4.2),(58.5,-5.7),(60.3,-4.5),(62.0,-5.7),(64.1,-4.9),(66.2,-5.3),(67.6,-4.2),(69.7,-5.7),(71.8,-4.9),(73.2,-5.7),(76.0,-5.3),(77.1,-4.5),(51.9,-10.7),(52.9,-8.4),(55.4,-8.4),(56.4,-9.5),(57.8,-8.0),(59.2,-9.9),(61.3,-8.8),(63.4,-9.5),(64.8,-8.4),(66.9,-9.2),(69.0,-8.4),(71.1,-9.5),(72.9,-8.8),(74.9,-7.6),(79.9,-7.8),(54.0,-13.0),(55.0,-12.6),(57.8,-12.6),(59.9,-13.4),(61.7,-11.8),(63.1,-13.0),(64.8,-14.5),(66.9,-15.3),(68.7,-14.2),(70.8,-13.0),(72.5,-11.8),(74.9,-12.4),(74.9,-13.0),(79.9,-12.5),(54.0,-16.6),(56.1,-17.4),(58.0,-15.3),(58.9,-17.8),(64.8,-17.4),(65.9,-19.5),(67.1,-18.6),(69.0,-17.2),(70.1,-19.9),(71.9,-19.7),(71.9,-22.8),(76.9,-16.3),(79.9,-18.8),(69.0,-21.7),(70.1,-21.8),(58.0,-24.2),(64.0,-28.2),(68.0,-29.4),(71.0,-27.6),
    (51,0),(52.5,-7),(53,9.5),(54,-2.5),(54.5,5),(55.5,-11),(56,0),(56.5,8.5),(57,-6),(57.5,3),(58,-14),(58.5,6),(59,-3.5),(59.5,11),(60,-7),(60.5,1),(61,-11),(61.5,6.5),(62,-3),(62.5,-15),(63,0.5),(63.5,-8),(64,7.5),(64.5,-3),(65,-11.5),(65.5,1.5),(66,-6.5),(66.5,4),(67,-13),(67.5,-1),(68,-9),(68.5,6),(69,-3),(69.5,-12),(70,0.5),(70.5,-7),(71,-16),(71.5,3),(72,-3.5),(72.5,-11),(73,1),(73.5,-7.5),(74,-3),(75,-10),(76,0.5),(77,-7)]

ukbb_krr = [(45.9,14.5),(47.9,14.9),(49.9,13.9),(50.8,17.2),(50.8,15.5),(54.9,16.8),(48.8,11.2),(47.9,9.3),(49.2,10.5),(50.2,12.0),(51.3,10.1),(52.4,11.2),(52.9,12.4),(54.1,11.2),(55.2,10.5),(56.5,10.5),(49.2,6.6),(50.6,8.5),(52.0,8.2),(50.9,5.1),(52.9,7.0),(52.9,2.8),(54.1,5.5),(55.2,7.8),(56.2,6.6),(55.8,4.3),(57.6,6.2),(58.6,7.8),(59.3,7.0),(59.9,5.1),(54.8,2.0),(57.2,2.8),(58.3,4.3),(61.0,3.2),(62.1,7.4),(62.4,8.9),(63.8,11.4),(63.1,8.5),(63.8,6.6),(62.8,5.1),(65.2,4.7),(66.6,4.3),(67.7,6.9),(68.7,6.8),(67.3,3.5),(70.1,2.8),(71.5,2.5),(55.5,0.8),(57.9,0.5),(58.9,-0.3),(61.0,0.8),(62.4,1.2),(63.8,-0.3),(65.2,1.2),(66.6,0.1),(68.0,0.8),(69.8,0.1),(71.2,0.8),(58.3,-1.8),(60.3,-1.1),(61.7,-2.6),(63.1,-1.5),(64.5,-2.6),(65.9,-1.5),(67.0,-2.6),(68.4,-1.8),(70.1,-2.6),(71.9,-1.5),(72.9,-2.2),(74.7,-2.6),(76.8,-2.8),(81.0,-4.0),(59.9,-4.5),(61.9,-6.3),(63.5,-4.5),(64.5,-5.7),(64.9,-8.0),(65.9,-4.2),(67.3,-4.9),(68.0,-6.5),(69.1,-5.3),(69.4,-8.0),(70.8,-4.5),(71.5,-6.1),(72.6,-6.8),(73.6,-5.3),(74.3,-4.2),(75.4,-6.5),(76.4,-5.3),(77.8,-5.7),(78.9,-4.5),(79.9,-6.5),(70.5,-9.2),(71.5,-9.9),(72.9,-9.2),(74.7,-10.7),(75.7,-9.2),(77.1,-9.9),(78.2,-10.3),(68.7,-11.5),(70.8,-12.6),(72.9,-11.5),(76.1,-11.5),(76.8,-11.5),(67.0,-8.4),(68.4,-9.5),(79.9,-11.8),(79.9,-12.6),(79.9,-13.4),(79.9,-16.5),(64.5,-3.4),(65.2,-6.8),(66.6,-6.5),(70.1,-6.8),(72.2,-8.0),(68.4,-7.6),(71.2,-10.7),(57.6,1.2),(59.7,2.0),(56.3,3.2),(53.8,4.3),(52.0,6.2),(61.4,6.6),(64.5,2.8),(66.3,2.4),(62.8,2.8),(60.7,-2.6),(62.1,-0.3),(74.3,-1.1),(75.7,-6.5),(77.5,-8.0),
    (48.5,12.5),(49.5,9.5),(50.5,11.5),(51.5,9),(51.5,12.5),(52.5,10),(53.5,8.5),(53.5,13),(54.5,10),(55.5,9),(55.5,12),(56.5,8),(57,10),(57.5,5),(58,3),(58.5,6),(59,9),(60,4),(60.5,7),(61,1),(61.5,5),(62,3.5),(62.5,0),(63,6),(63.5,1.5),(64,4),(64,-1),(65,0),(65.5,-3),(66,2),(66.5,-1),(67,-3.5),(67.5,1),(68,-2),(68.5,-4),(69,-1),(69.5,-3),(70,-5),(70.5,-1.5),(71,-3.5),(71.5,-7),(72,-5),(72.5,-3),(73,-4),(73.5,-7.5),(74,-6),(74.5,-8),(75,-5),(75.5,-8),(76,-7),(76.5,-10),(77,-7),(77.5,-4),(78.5,-8),(79,-6),(79.5,-9)]

ukbb_lasso = [(46.0,15.7),(47.9,13.7),(49.9,13.7),(50.9,17.2),(50.9,15.5),(54.9,17.2),(47.9,10.5),(47.9,8.9),(49.3,10.5),(49.3,8.2),(48.9,5.5),(50.7,11.2),(52.1,10.5),(51.4,8.5),(52.8,11.6),(53.5,9.7),(54.9,10.5),(56.9,11.1),(52.1,6.2),(53.1,7.0),(52.8,5.1),(54.9,8.2),(55.2,6.2),(57.3,8.2),(58.4,7.0),(57.0,5.1),(59.1,6.2),(54.5,2.0),(54.9,0.1),(55.9,-0.3),(55.9,3.2),(58.0,2.0),(59.1,4.7),(60.1,3.2),(61.2,5.1),(61.9,7.0),(62.2,8.8),(63.1,9.7),(64.0,9.7),(64.8,9.7),(61.9,3.5),(63.3,6.6),(64.3,4.3),(66.1,4.7),(67.8,6.8),(68.9,6.2),(69.6,4.3),(66.8,3.5),(68.9,1.6),(70.6,2.0),(72.0,1.8),(56.3,0.8),(58.0,-0.3),(59.1,-1.8),(60.1,-0.3),(61.2,1.2),(62.6,-0.3),(63.3,1.2),(64.7,0.5),(66.4,0.8),(67.8,-0.3),(69.9,0.5),(72.0,-0.3),(58.4,-2.6),(59.1,-4.7),(60.5,-3.4),(62.6,-3.0),(62.9,-4.9),(61.9,-7.1),(64.0,-4.2),(64.7,-6.8),(65.0,-9.2),(66.1,-2.6),(66.1,-4.9),(67.1,-3.8),(67.8,-6.5),(68.9,-4.5),(69.2,-8.4),(70.3,-5.7),(71.3,-3.4),(72.4,-4.9),(73.1,-6.5),(74.1,-4.9),(74.8,-2.6),(75.2,-3.8),(76.6,-6.5),(76.9,-2.0),(80.8,-4.3),(74.8,-8.0),(75.9,-9.2),(78.0,-7.6),(76.9,-10.9),(75.9,-10.7),(69.9,-10.7),(68.9,-13.8),(70.8,-12.5),(72.0,-12.2),(73.1,-11.8),(80.1,-6.8),(79.9,-12.2),(79.9,-13.0),(79.9,-16.1),(67.5,-11.1),(71.3,-9.2),(73.8,-9.5),(70.3,-8.0),
    (48.5,11.5),(49.5,7),(50,9.5),(51,6.5),(51.5,10),(52.5,8),(53,12),(53.5,5.5),(54,7.5),(55,9),(55.5,4),(56,7),(56.5,2),(57.5,3.5),(58,6),(58.5,1),(59.5,2),(60,5),(60.5,-1.5),(61,2.5),(61.5,0),(62,4.5),(62.5,-2),(63,1.5),(63.5,-4),(64,-1),(64.5,2),(65,-3),(65.5,-1),(66,-6),(66.5,-3),(67,0),(67.5,-5),(68,-2),(68.5,-7),(69,-4),(69.5,-1.5),(70,-6.5),(70.5,-3),(71,-8),(71.5,-5.5),(72,-2.5),(72.5,-7),(73,-4),(73.5,-9),(74,-6),(74.5,-3.5),(75,-8),(75.5,-5),(76,-7),(77,-9),(77.5,-5),(78.5,-6.5)]

ukbb_xgb = [(45.9,13.4),(47.8,12.4),(47.8,10.8),(49.9,19.9),(50.8,18.3),(53.8,18.0),(49.9,15.7),(51.2,15.1),(52.7,15.2),(49.9,14.3),(54.8,15.5),(55.0,13.9),(55.0,12.6),(55.9,14.2),(49.9,11.8),(51.9,10.6),(52.9,11.2),(54.7,9.3),(56.4,10.8),(49.1,7.0),(48.7,5.1),(50.1,8.9),(51.2,7.4),(52.6,6.6),(54.0,8.2),(55.4,7.4),(57.1,9.3),(58.9,9.7),(58.5,7.4),(60.3,6.2),(62.0,9.7),(62.7,8.2),(64.1,7.4),(65.9,6.6),(66.9,7.5),(67.6,4.7),(68.3,3.9),(50.1,3.9),(51.9,2.0),(54.0,3.2),(55.7,4.3),(57.5,3.5),(59.2,4.7),(61.0,3.9),(62.4,4.7),(64.5,3.5),(65.9,4.7),(69.7,2.8),(71.0,2.4),(53.8,-4.8),(54.7,-0.7),(55.7,0.5),(56.8,-1.8),(58.5,-0.3),(60.3,0.8),(61.0,-1.8),(62.4,-0.7),(63.8,1.2),(65.2,-0.3),(66.9,0.8),(68.7,-0.7),(70.1,0.5),(72.2,-0.3),(75.0,-1.5),(55.9,-5.5),(57.8,-7.1),(56.8,-9.7),(58.5,-3.4),(60.3,-4.9),(61.7,-3.4),(62.0,-7.6),(63.1,-5.7),(64.5,-4.2),(65.9,-6.1),(67.3,-4.9),(68.7,-6.8),(70.1,-4.5),(71.5,-5.7),(72.9,-3.4),(74.3,-2.6),(75.7,-4.5),(76.9,-4.5),(74.3,-6.5),(63.8,-8.8),(64.5,-11.1),(65.9,-12.6),(66.9,-9.2),(68.7,-11.1),(69.7,-9.5),(70.1,-11.8),(71.5,-14.5),(72.2,-15.0),(72.2,-9.5),(73.6,-8.4),(75.3,-11.1),(77.1,-8.0),(79.9,-8.0),(79.9,-9.2),(81.0,-10.3),(79.9,-13.4),(75.8,-15.1),(76.9,-13.8),(77.9,-16.1),(66.0,-14.9),(69.0,-16.6),(70.9,-17.6),(67.9,-13.8),(61.0,-4.2),(63.1,-2.6),(65.9,-2.6),(59.6,-2.6),(68.7,-2.6),(71.5,-2.6),(58.2,2.0),(61.7,2.8),(64.5,2.0),(67.3,2.0),(52.2,4.7),(52.6,8.9),(61.0,8.2),
    (49,9),(50,12.5),(50.5,5.5),(51,13),(52,9),(52.5,13),(53,5),(53.5,10.5),(54,6),(54.5,12),(55,9.5),(55.5,2.5),(56,6),(56.5,12),(57,2),(57.5,8),(58,5.5),(58.5,11),(59,1.5),(59.5,7.5),(60,-1),(60.5,3),(61,6),(61.5,-0.5),(62,2),(62.5,-3),(63,5),(63.5,-1),(64,-6),(64.5,0.5),(65,-4),(65.5,2),(66,-1.5),(66.5,-8),(67,-3),(67.5,0),(68,-5.5),(68.5,-9),(69,-1.5),(69.5,-7),(70,-3.5),(70.5,-10),(71,-6.5),(71.5,-1),(72,-7.5),(72.5,-4.5),(73,-11),(73.5,-6),(74,-9),(74.5,-4),(75,-7),(75.5,-9.5),(76,-6),(76.5,-10.5),(77.5,-6.5),(78,-3)]

ukbb_rf = [(45.9,17.0),(47.9,13.4),(49.9,15.6),(50.9,17.5),(50.9,14.7),(52.9,13.7),(54.9,13.9),(53.8,12.8),(55.4,12.4),(56.1,10.8),(47.9,9.7),(47.9,8.5),(49.3,8.9),(49.3,7.0),(50.7,7.8),(52.1,8.9),(51.7,5.8),(52.8,10.5),(53.5,7.0),(54.5,8.9),(55.2,5.5),(56.3,7.4),(57.3,9.7),(58.4,7.8),(59.1,6.6),(60.1,7.8),(61.7,8.2),(62.7,7.8),(64.0,7.0),(57.6,4.3),(56.3,2.8),(59.1,3.5),(60.5,5.1),(61.9,3.9),(63.3,4.7),(65.0,4.3),(66.8,4.5),(61.9,2.4),(64.0,2.8),(66.1,2.0),(68.2,2.8),(70.3,1.2),(71.3,-0.3),(56.3,-0.7),(57.7,0.8),(59.1,-0.3),(60.5,0.5),(62.2,-1.1),(64.0,0.5),(65.7,-0.3),(67.8,0.8),(69.6,-0.3),(59.1,-2.6),(60.8,-1.8),(62.6,-3.4),(64.7,-2.6),(66.1,-4.2),(67.5,-2.6),(69.2,-3.4),(70.6,-1.8),(72.0,-2.6),(73.1,-4.2),(74.8,-3.8),(64.0,-5.7),(65.7,-6.5),(67.1,-5.3),(69.0,-6.5),(70.3,-5.3),(71.3,-6.8),(73.1,-6.1),(74.8,-5.7),(75.9,-7.2),(77.0,-6.5),(78.2,-7.6),(66.1,-10.2),(69.0,-9.2),(69.4,-11.1),(70.1,-12.6),(71.1,-14.3),(72.0,-11.1),(72.7,-12.2),(75.2,-9.9),(75.2,-11.1),(77.3,-11.5),(78.3,-11.5),(80.1,-9.2),(80.1,-10.7),(80.1,-12.6),(81.1,-9.9),(73.1,-8.8),
    (48.5,11),(49.5,12.5),(50,10),(50.5,13),(51,9.5),(51.5,11.5),(52,6.5),(52.5,10),(53,8.5),(53.5,11),(54,6),(54.5,10.5),(55,7.5),(55.5,9.5),(56,4.5),(56.5,8.5),(57,6),(57.5,2),(58,5),(58.5,8.5),(59,1),(59.5,4.5),(60,6.5),(60.5,2.5),(61,-1),(61.5,5.5),(62,1),(62.5,4),(63,-1.5),(63.5,2),(64,-4),(64.5,-0.5),(65,2.5),(65.5,-2),(66,0.5),(66.5,-5),(67,-1),(67.5,-7),(68,-3.5),(68.5,0),(69,-5),(69.5,-8),(70,-2.5),(70.5,-7.5),(71,-4),(71.5,-9),(72,-5.5),(72.5,-8),(73,-3),(73.5,-10),(74,-7),(74.5,-9),(75,-5),(76,-8.5),(76.5,-10),(77,-8),(79,-8.5)]

ukbb_nn = [(45.8,24.5),(51.9,23.0),(52.8,22.8),(52.8,21.2),(58.9,23.7),(62.9,20.3),(49.9,19.5),(51.9,18.5),(52.8,19.3),(47.9,16.2),(49.9,17.0),(50.9,17.0),(51.0,15.1),(52.1,15.5),(53.8,14.7),(54.9,16.6),(56.6,16.6),(57.0,15.7),(58.4,15.1),(60.1,13.9),(61.2,12.8),(64.2,15.5),(64.9,17.4),(65.9,16.2),(66.8,12.6),(65.8,11.6),(70.3,11.2),(71.0,12.2),(49.9,12.4),(51.9,12.6),(47.9,8.0),(50.0,8.9),(48.9,3.9),(50.3,7.0),(50.7,2.0),(52.8,10.1),(53.8,12.8),(54.5,11.2),(53.1,7.4),(54.5,9.3),(55.9,10.5),(57.0,12.4),(57.3,8.2),(58.4,10.1),(59.4,8.9),(60.8,10.8),(61.9,8.9),(63.3,10.5),(64.7,8.9),(66.5,7.8),(67.8,8.2),(69.6,8.5),(69.9,7.0),(72.7,9.5),(74.8,7.4),(54.9,6.2),(55.9,4.3),(57.3,5.8),(59.1,4.7),(60.5,5.8),(62.2,4.7),(64.3,5.5),(66.1,4.3),(67.8,5.5),(69.2,4.7),(71.3,4.3),(72.7,3.2),(74.1,1.2),(79.7,2.0),(79.9,2.6),(47.6,0.1),(48.6,-1.5),(48.9,-5.3),(51.7,-4.3),(53.8,0.5),(53.1,-1.5),(54.5,-2.6),(56.3,-0.3),(58.0,-1.8),(59.4,0.5),(60.1,-3.4),(61.5,-1.1),(62.9,-2.6),(64.3,-0.7),(65.7,-3.4),(67.1,-1.5),(68.5,-4.2),(69.9,-2.6),(71.3,-4.5),(72.7,-2.6),(74.8,-6.1),(75.9,0.1),(76.9,-2.2),(79.7,-3.9),(78.0,-9.2),(52.8,-8.0),(54.5,-8.6),(55.9,-9.9),(56.6,-10.3),(55.9,-6.5),(58.0,-5.7),(59.8,-6.8),(61.2,-4.9),(62.6,-7.2),(64.3,-5.7),(65.7,-8.0),(67.1,-6.5),(68.9,-8.0),(70.3,-6.5),(71.7,-8.4),(73.4,-8.0),(74.8,-9.2),(75.5,-11.5),(57.9,-12.5),(61.9,-10.9),(62.2,-12.5),(64.0,-11.8),(66.1,-10.3),(67.5,-11.8),(69.2,-10.7),(70.3,-13.0),(72.0,-14.2),(73.1,-15.7),(73.8,-17.2),(75.9,-19.2),(76.9,-13.2),(79.7,-12.5),(81.0,-16.1),(79.9,-16.5),(79.9,-23.4),(51.9,-14.9),(53.8,-19.5),(56.8,-20.3),(57.9,-20.7),(57.9,-18.0),(58.9,-15.7),(59.9,-15.5),(61.9,-20.7),(61.9,-23.0),(62.8,-17.2),(63.6,-15.3),(64.9,-19.5),(65.9,-17.0),(67.0,-23.4),(67.8,-23.4),(68.9,-14.9),(68.9,-19.5),(69.8,-23.4),(70.0,-20.3),(72.1,-23.0),(60.8,-26.1),(65.9,-25.7),(69.9,-26.2),(72.9,-28.2),(74.8,-27.1),(75.4,-22.2),(76.9,-17.2),
    (48,13),(49,10),(50,5.5),(51,11),(52,1.5),(53,15.5),(53.5,4),(54,13.5),(55,2),(55.5,14.5),(56,8),(56.5,-2),(57,10),(57.5,-4),(58,3),(58.5,12.5),(59,-8),(59.5,6.5),(60,1.5),(60.5,-10),(61,9.5),(61.5,-3),(62,6),(62.5,-14),(63,0.5),(63.5,-7),(64,12.5),(64.5,-9.5),(65,3),(65.5,-13),(66,-5),(66.5,10),(67,-9),(67.5,1),(68,-13.5),(68.5,6.5),(69,-6),(69.5,-16),(70,1.5),(70.5,-9),(71,-17.5),(71.5,-2),(72,-11),(72.5,6),(73,-6),(73.5,-12),(74,-2),(74.5,-14),(75,-4.5),(75.5,-8),(76,-15),(76.5,-10),(77,-6),(78,-14),(79,-9)]

ukbb_svr = [(45.9,17.5),(48.0,17.2),(50.9,16.8),(50.0,13.4),(50.6,14.7),(52.0,12.6),(52.8,11.2),(53.9,12.9),(54.9,14.3),(56.9,12.6),(59.0,11.1),(59.9,11.4),(47.9,8.3),(48.9,9.1),(49.0,7.0),(51.3,8.9),(52.0,7.4),(53.4,9.3),(50.9,5.5),(52.7,5.8),(53.7,6.6),(55.1,8.2),(56.9,8.9),(58.3,7.4),(60.0,7.4),(61.6,10.1),(62.1,8.9),(63.8,10.5),(56.2,6.2),(57.6,5.1),(59.0,5.8),(61.0,6.2),(63.1,6.6),(64.5,5.5),(66.6,5.1),(67.9,7.4),(67.3,3.9),(69.4,3.9),(70.1,3.2),(53.4,2.8),(55.5,3.2),(57.2,2.0),(59.0,3.2),(61.4,2.8),(63.5,3.5),(65.2,2.4),(67.3,2.0),(55.1,0.1),(56.9,-1.1),(58.6,-0.3),(60.3,0.5),(62.4,-0.3),(64.5,0.5),(66.3,-0.7),(68.4,0.1),(70.1,0.5),(71.9,0.1),(57.2,-4.2),(58.3,-5.3),(59.3,-2.6),(61.0,-3.8),(62.8,-2.6),(63.1,-4.9),(64.9,-4.2),(66.3,-2.6),(67.7,-4.2),(69.4,-2.6),(71.2,-3.4),(72.9,-1.8),(74.9,-2.2),(61.0,-6.5),(62.8,-8.4),(63.8,-6.8),(64.9,-9.9),(65.9,-6.5),(67.3,-8.0),(69.1,-6.1),(70.1,-8.4),(71.2,-6.8),(72.9,-4.9),(73.6,-6.5),(75.7,-4.9),(76.8,-6.5),(77.8,-6.8),(79.9,-7.6),(79.9,-9.5),(80.9,-10.3),(79.9,-12.2),(68.0,-10.7),(68.9,-13.0),(70.8,-16.1),(71.9,-11.8),(72.9,-14.8),(75.0,-11.1),(77.1,-11.5),(78.0,-11.5),(64.0,-11.5),(74.3,-8.4),(72.2,-9.5),
    (48,12),(49,14),(49.5,10.5),(50,8),(50.5,11),(51,6.5),(51.5,10),(52,13.5),(52.5,8.5),(53,4),(53.5,11.5),(54,7.5),(54.5,10.5),(55,5),(55.5,9.5),(56,1.5),(56.5,10),(57,7),(57.5,3.5),(58,9.5),(58.5,5),(59,0.5),(59.5,8),(60,2),(60.5,-2),(61,4.5),(61.5,0),(62,7.5),(62.5,-5),(63,1),(63.5,4.5),(64,-2),(64.5,-7.5),(65,0),(65.5,-4.5),(66,1.5),(66.5,-8.5),(67,-2),(67.5,-6),(68,1),(68.5,-3),(69,-9),(69.5,-5),(70,-1.5),(70.5,-11),(71,-5.5),(71.5,-2),(72,-8),(72.5,-12.5),(73,-3.5),(73.5,-9.5),(74,-5.5),(75,-8),(76,-9.5),(77,-7.5),(78,-9)]

panel_data = {
    "HCP-A": [hcp_krr_up, hcp_lasso_up, hcp_krr, hcp_lasso, hcp_xgb, hcp_rf, hcp_nn, hcp_svr],
    "UKBB": [ukbb_krr_up, ukbb_lasso_up, ukbb_krr, ukbb_lasso, ukbb_xgb, ukbb_rf, ukbb_nn, ukbb_svr],
}

# ---------------- layout (pixels) ----------------
W, H = 1644, 705
fig = plt.figure(figsize=(W / 100, H / 100), dpi=100)


def box(l, t, r, b):
    return [l / W, 1 - b / H, (r - l) / W, (b - t) / H]


LEFT0, STEP, PW = 46.7, 192.6, 183.3
row_geom = {
    "HCP-A": dict(top=42.7, bottom=294.3, xlim=(33.7, 91.6), major=x_ticks_hcp, minor=x_minor_hcp),
    "UKBB": dict(top=361.7, bottom=646.7, xlim=(44.3, 82.7), major=x_ticks_ukbb, minor=x_minor_ukbb),
}
BORDER = "#333333"
GRID = "#EBEBEB"
POINT = "#BEBEBE"

for ds in datasets:
    g = row_geom[ds]
    for i, model in enumerate(models):
        l = LEFT0 + i * STEP
        ax = fig.add_axes(box(l, g["top"], l + PW, g["bottom"]))
        pts = panel_data[ds][i]
        xs = [p[0] for p in pts]
        ys = [p[1] for p in pts]
        ax.scatter(xs, ys, s=30, color=POINT, linewidths=0, zorder=2)
        ax.axhline(0, color="black", lw=1.1, ls=(0, (4.5, 2.6)), zorder=3)
        ax.set_xlim(*g["xlim"])
        ax.set_ylim(-33, 33)
        ax.set_xticks(g["major"])
        ax.set_xticks(g["minor"], minor=True)
        ax.set_yticks(y_ticks)
        ax.set_yticks(y_minor, minor=True)
        ax.set_axisbelow(True)
        ax.grid(which="major", color=GRID, lw=1.0)
        ax.grid(which="minor", color=GRID, lw=0.6)
        for sp in ax.spines.values():
            sp.set_color(BORDER)
            sp.set_linewidth(0.8)
        ax.tick_params(axis="x", which="major", length=3, width=0.8, color=BORDER,
                       labelsize=9.3, labelcolor="#4D4D4D", pad=2)
        ax.tick_params(which="minor", length=0)
        if i == len(models) - 1:
            ax.yaxis.tick_right()
            ax.tick_params(axis="y", which="major", length=3, width=0.8, color=BORDER,
                           labelsize=9.3, labelcolor="#4D4D4D", pad=2, left=False, right=True)
            ax.set_yticklabels([str(v) for v in y_ticks])
        else:
            ax.tick_params(axis="y", which="major", length=0, labelleft=False, labelright=False)

        # column strips (top row only)
        if ds == "HCP-A":
            sax = fig.add_axes(box(l, 9, l + PW, g["top"]))
            sax.set_facecolor(strip_colors[i])
            sax.set_xticks([]); sax.set_yticks([])
            for sp in sax.spines.values():
                sp.set_color(BORDER); sp.set_linewidth(0.8)
            sax.text(0.5, 0.48, model, ha="center", va="center", fontsize=13.2,
                     color="#1A1A1A", transform=sax.transAxes)

    # row strip on the left
    rax = fig.add_axes(box(9, g["top"], LEFT0, g["bottom"]))
    rax.set_facecolor("#D9D9D9")
    rax.set_xticks([]); rax.set_yticks([])
    for sp in rax.spines.values():
        sp.set_color(BORDER); sp.set_linewidth(0.8)
    rax.text(0.52, 0.5, ds, ha="center", va="center", rotation=90, fontsize=16,
             color="#1A1A1A", transform=rax.transAxes)

    # right axis title
    yc = (g["top"] + g["bottom"]) / 2
    fig.text(1625 / W, 1 - yc / H, "Residual", rotation=-90, ha="center", va="center",
             fontsize=16, color="black")

fig.text((LEFT0 + 7 * STEP + PW + LEFT0) / 2 / W, 1 - 688 / H, "Y", ha="center", va="center",
         fontsize=16, color="black")

fig.savefig("out.png", dpi=100)
